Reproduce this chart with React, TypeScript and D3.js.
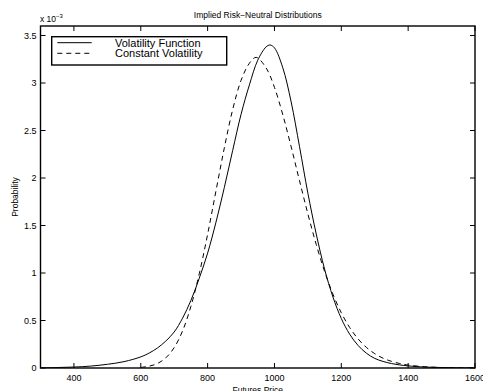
import React from "react";
import * as d3 from "d3";

const W = 483;
const H = 391;

const titleText = "Implied Risk\u2212Neutral Distributions";
const xLabel = "Futures Price";
const yLabel = "Probability";
const seriesNames = ["Volatility Function", "Constant Volatility"];

const xTicks = [400, 600, 800, 1000, 1200, 1400, 1600];
const yTicks = [0, 0.5, 1, 1.5, 2, 2.5, 3, 3.5];

// Volatility function (solid), values in units of 1e-3
const priceVF = [300, 350, 400, 450, 500, 550, 600, 625, 650, 675, 700, 725, 750, 775, 800, 825, 850, 875, 900, 925, 950, 975, 987, 1000, 1025, 1050, 1075, 1100, 1125, 1150, 1175, 1200, 1225, 1250, 1275, 1300, 1325, 1350, 1375, 1400, 1450, 1500, 1550, 1600];
const probVF = [0.002, 0.005, 0.010, 0.020, 0.039, 0.067, 0.117, 0.157, 0.211, 0.284, 0.379, 0.524, 0.711, 0.945, 1.209, 1.535, 1.900, 2.29, 2.67, 2.98, 3.24, 3.38, 3.40, 3.37, 3.16, 2.80, 2.33, 1.84, 1.41, 1.04, 0.747, 0.521, 0.356, 0.238, 0.156, 0.101, 0.069, 0.047, 0.032, 0.022, 0.010, 0.005, 0.002, 0.001];

// Constant volatility (dashed), values in units of 1e-3
const priceCV = [600, 625, 650, 675, 700, 725, 750, 775, 800, 825, 850, 875, 900, 925, 945, 975, 1000, 1025, 1050, 1075, 1100, 1125, 1150, 1175, 1200, 1225, 1250, 1275, 1300, 1325, 1350, 1375, 1400, 1450, 1500, 1550, 1600];
const probCV = [0.006, 0.019, 0.047, 0.107, 0.215, 0.390, 0.649, 0.992, 1.407, 1.864, 2.317, 2.720, 3.027, 3.208, 3.27, 3.159, 2.954, 2.665, 2.328, 1.971, 1.622, 1.300, 1.017, 0.777, 0.581, 0.426, 0.307, 0.217, 0.151, 0.103, 0.070, 0.047, 0.031, 0.013, 0.005, 0.002, 0.001];

const FONT = "'Liberation Sans', Arial, Helvetica, sans-serif";

export default function App() {
  const left = 40.5, right = 475, top = 26, bottom = 368;
  const x = d3.scaleLinear().domain([300, 1600]).range([left, right]);
  const y = d3.scaleLinear().domain([0, 3.6]).range([bottom, top]);

  const line = d3
    .line<[number, number]>()
    .x((d) => x(d[0]))
    .y((d) => y(d[1]))
    .curve(d3.curveCatmullRom);

  const vf = line(priceVF.map((p, i) => [p, probVF[i]] as [number, number])) || "";
  const cv = line(priceCV.map((p, i) => [p, probCV[i]] as [number, number])) || "";

  const tl = 5;

  return (
    <svg
      width={W}
      height={H}
      style={{ position: "absolute", left: 0, top: 0, background: "#fff" }}
      fontFamily={FONT}
    >
      <rect x={0} y={0} width={W} height={H} fill="#fff" />
      <defs>
        <clipPath id="plotclip">
          <rect x={left} y={top} width={right - left} height={bottom - top} />
        </clipPath>
      </defs>

      {/* curves */}
      <g clipPath="url(#plotclip)">
        <path d={vf} fill="none" stroke="#000" strokeWidth={1} />
        <path d={cv} fill="none" stroke="#000" strokeWidth={1} strokeDasharray="5,4" />
      </g>

      {/* axes box */}
      <rect x={left} y={top} width={right - left} height={bottom - top} fill="none" stroke="#000" strokeWidth={1.4} />

      {/* x ticks */}
      {xTicks.map((t) => (
        <g key={"xt" + t}>
          <line x1={x(t)} x2={x(t)} y1={bottom} y2={bottom - tl} stroke="#000" strokeWidth={1} />
          <line x1={x(t)} x2={x(t)} y1={top} y2={top + tl} stroke="#000" strokeWidth={1} />
          <text x={x(t)} y={381} fontSize={9} textAnchor="middle" fill="#000">
            {t}
          </text>
        </g>
      ))}

      {/* y ticks */}
      {yTicks.map((t) => (
        <g key={"yt" + t}>
          <line x1={left} x2={left + tl} y1={y(t)} y2={y(t)} stroke="#000" strokeWidth={1} />
          <line x1={right} x2={right - tl} y1={y(t)} y2={y(t)} stroke="#000" strokeWidth={1} />
          <text x={36.5} y={y(t) + 3.2} fontSize={9} textAnchor="end" fill="#000">
            {t}
          </text>
        </g>
      ))}

      {/* exponent */}
      <text x={40} y={22} fontSize={8.5} fill="#000">
        x 10
        <tspan fontSize={6} dy={-4}>
          −3
        </tspan>
      </text>

      {/* title */}
      <text x={(left + right) / 2} y={18} fontSize={8.5} textAnchor="middle" fill="#000">
        {titleText}
      </text>

      {/* x label */}
      <text x={(left + right) / 2} y={392.5} fontSize={8.5} textAnchor="middle" fill="#000">
        {xLabel}
      </text>

      {/* y label */}
      <text
        transform={`translate(17.5, ${(top + bottom) / 2}) rotate(-90)`}
        fontSize={8.5}
        textAnchor="middle"
        fill="#000"
      >
        {yLabel}
      </text>

      {/* legend */}
      <g>
        <rect x={51.7} y={36.7} width={175} height={28.3} fill="#fff" stroke="#000" strokeWidth={1.4} />
        <line x1={57.3} x2={91.7} y1={42.7} y2={42.7} stroke="#000" strokeWidth={1} />
        <line x1={57.3} x2={91.7} y1={53.3} y2={53.3} stroke="#000" strokeWidth={1} strokeDasharray="5,4" />
        <text x={115} y={46.6} fontSize={11} fill="#000">
          {seriesNames[0]}
        </text>
        <text x={115} y={57.2} fontSize={11} fill="#000">
          {seriesNames[1]}
        </text>
      </g>
    </svg>
  );
}
